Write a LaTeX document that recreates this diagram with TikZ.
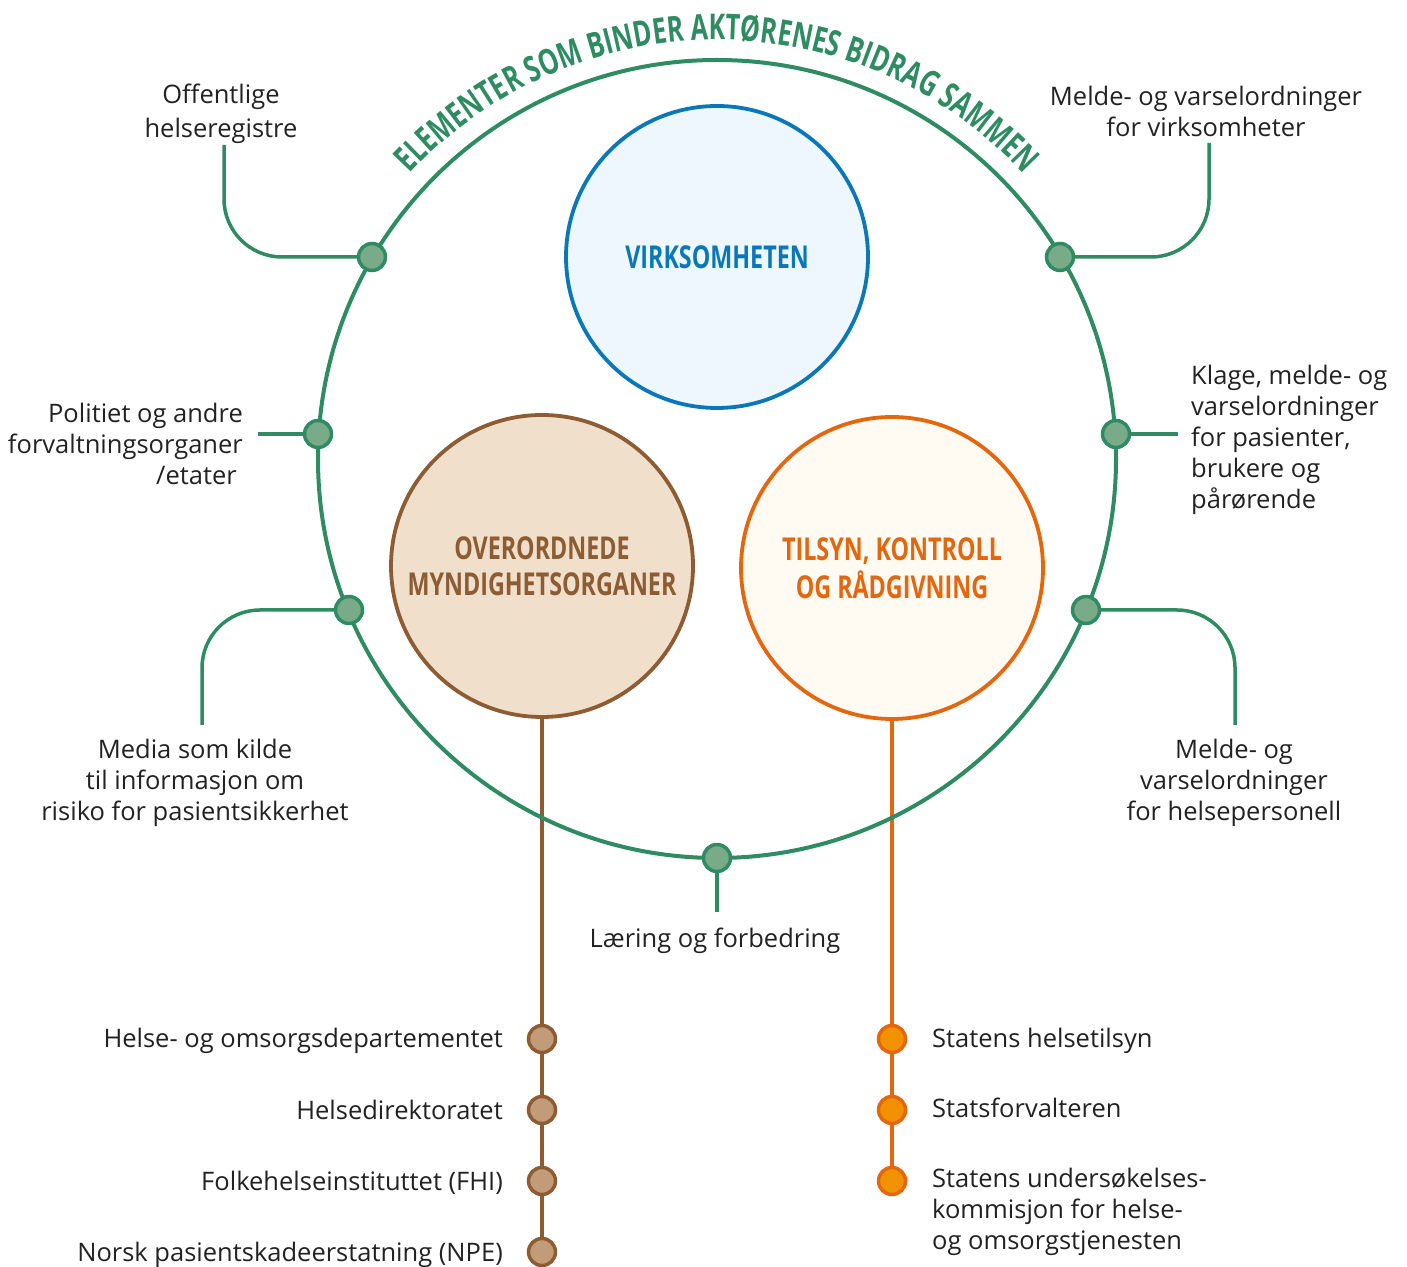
\documentclass[tikz,border=0pt]{standalone}
\usepackage{fontspec}
\setmainfont{Open Sans}
\newfontfamily\condfont[FakeStretch=0.74]{Open Sans}
\newfontfamily\titlecond[FakeStretch=0.71]{Open Sans}
\newcommand\titlefont{\titlecond\bfseries\fontsize{35.5}{40}\selectfont}
\usetikzlibrary{decorations.text,backgrounds}
\definecolor{mygreen}{HTML}{2E8B62}
\definecolor{nodegreen}{HTML}{7AAB88}
\definecolor{blueline}{HTML}{0A78B8}
\definecolor{bluefill}{HTML}{EEF6FE}
\definecolor{brownline}{HTML}{8E5C32}
\definecolor{brownfill}{HTML}{EFDFCB}
\definecolor{brownnode}{HTML}{C29C78}
\definecolor{orangeline}{HTML}{E2670F}
\definecolor{orangefill}{HTML}{FFFAF2}
\definecolor{orangenode}{HTML}{F39200}
\definecolor{textc}{HTML}{222222}
\begin{document}
\begin{tikzpicture}[x=1pt,y=1pt,
 lbl/.style={font=\fontsize{25.5}{31}\selectfont, text=textc, inner sep=0, align=center},
 gdot/.style={circle, draw=mygreen, fill=nodegreen, line width=3.5, minimum size=27, inner sep=0},
 bdot/.style={circle, draw=brownline, fill=brownnode, line width=3.5, minimum size=27, inner sep=0},
 odot/.style={circle, draw=orangeline, fill=orangenode, line width=3.5, minimum size=27, inner sep=0},
 gline/.style={draw=mygreen, line width=3.5},
 bigc/.style={circle, line width=3.8, minimum size=302, inner sep=0, align=center, font=\condfont\bfseries\fontsize{31.5}{36}\selectfont}
]
\useasboundingbox (0,0) rectangle (1407,1266);

% ring
\node[circle, draw=mygreen, line width=4, minimum size=798, inner sep=0] (ring) at (717,807) {};
\path[decorate, decoration={text along path, text align=center, text color=mygreen,
  text={|\titlefont|ELEMENTER SOM BINDER AKTØRENES BIDRAG SAMMEN}}]
  (ring.center) ++(141:419) arc[start angle=141, end angle=39, radius=419];

% main circles
\node[bigc, draw=blueline, fill=bluefill, text=blueline] (virk) at (717,1009) {VIRKSOMHETEN};
\node[bigc, draw=brownline, fill=brownfill, text=brownline] (over) at (542,700) {OVERORDNEDE\\MYNDIGHETSORGANER};
\node[bigc, draw=orangeline, fill=orangefill, text=orangeline] (tils) at (892,698) {TILSYN, KONTROLL\\[2pt]OG RÅDGIVNING};

% green dots
\node[gdot] (g1) at (372,1009) {};
\node[gdot] (g2) at (1060,1009) {};
\node[gdot] (g3) at (318,832) {};
\node[gdot] (g4) at (1116,832) {};
\node[gdot] (g5) at (349,656) {};
\node[gdot] (g6) at (1086,656) {};
\node[gdot] (g7) at (717,408) {};

% brown and orange dots
\node[bdot] (b1) at (542,227) {};
\node[bdot] (b2) at (542,156) {};
\node[bdot] (b3) at (542,85) {};
\node[bdot] (b4) at (542,14) {};
\node[odot] (o1) at (892,227) {};
\node[odot] (o2) at (892,156) {};
\node[odot] (o3) at (892,85) {};

% connector end points
\coordinate (c1) at (224,1121);
\coordinate (c2) at (1209,1123);
\coordinate (c3) at (258,832);
\coordinate (c4) at (1178,832);
\coordinate (c5) at (202,541);
\coordinate (c6) at (1235,541);
\coordinate (c7) at (717,354);

\begin{scope}[on background layer]
\draw[gline, rounded corners=58] (g1.center) -| (c1);
\draw[gline, rounded corners=58] (g2.center) -| (c2);
\draw[gline] (g3.center) -- (c3);
\draw[gline] (g4.center) -- (c4);
\draw[gline, rounded corners=58] (g5.center) -| (c5);
\draw[gline, rounded corners=58] (g6.center) -| (c6);
\draw[gline] (g7.center) -- (c7);
\draw[draw=brownline, line width=3.5] (over.south) -- (b4.center);
\draw[draw=orangeline, line width=3.5] (tils.south) -- (o3.center);
\end{scope}

% labels
\node[lbl] (t1) at (221,1152) {Offentlige\\[3pt]helseregistre};
\node[lbl] (t2) at (1206,1155) {Melde- og varselordninger\\for virksomheter};
\node[lbl, anchor=east, align=right] (t3) at (243,822) {Politiet og andre\\forvaltningsorganer\\/etater\hspace*{6pt}};
\node[lbl, anchor=west, align=left] (t4) at (1191,826) {Klage, melde- og\\varselordninger\\for pasienter,\\brukere og\\pårørende};
\node[lbl] (t5) at (195,483) {Media som kilde\\til informasjon om\\risiko for pasientsikkerhet};
\node[lbl] (t6) at (1234,483) {Melde- og\\varselordninger\\for helsepersonell};
\node[lbl] (t7) at (715,325) {Læring og forbedring};

\node[lbl, anchor=base east] (tb1) at (503,218) {Helse- og omsorgsdepartementet};
\node[lbl, anchor=base east] (tb2) at (503,147) {Helsedirektoratet};
\node[lbl, anchor=base east] (tb3) at (503,76) {Folkehelseinstituttet (FHI)};
\node[lbl, anchor=base east] (tb4) at (503,5) {Norsk pasientskadeerstatning (NPE)};

\node[lbl, anchor=base west] (to1) at (932,218) {Statens helsetilsyn};
\node[lbl, anchor=base west] (to2) at (932,149) {Statsforvalteren};
\node[lbl, anchor=west, align=left] (to3) at (932,54) {Statens undersøkelses-\\kommisjon for helse-\\og omsorgstjenesten};
\end{tikzpicture}
\end{document}
